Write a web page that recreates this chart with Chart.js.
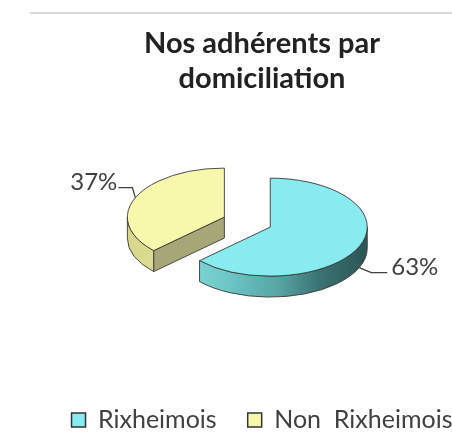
<!DOCTYPE html>
<html><head><meta charset="utf-8">
<script src="https://cdn.jsdelivr.net/npm/chart.js@4.4.1/dist/chart.umd.min.js"></script>
<style>
html,body{margin:0;padding:0;background:#fff;width:452px;height:445px;overflow:hidden;}
#rule{position:absolute;left:30px;top:12px;width:422px;height:0;border-top:2px solid #d9d9d9;}
#wrap{position:absolute;left:30px;top:13px;width:464px;height:432px;}
</style></head><body>
<div id="rule"></div>
<div id="wrap"><canvas id="c" width="464" height="432"></canvas></div>
<script>
const categories = ['Rixheimois', 'Non  Rixheimois'];
const shares = [63, 37];
const titleLines = ['Nos adhérents par', 'domiciliation'];

const topColors = ['#87EBEF', '#F8F8AC'];
const faceColors = ['#4f9a9a', '#a6a676'];
const sideStops = [
  [[0, '#86dede'], [0.3, '#6cc4c4'], [0.55, '#57a3a3'], [0.75, '#3b7373'], [1, '#2c5555']],
  [[0, '#d6d68c'], [0.3, '#e2e29a'], [1, '#ececa6']]
];

const pie3d = {
  id: 'pie3d',
  beforeDatasetsDraw(chart, args, o) {
    const ctx = chart.ctx;
    const meta = chart.getDatasetMeta(0);
    const ds = chart.data.datasets[0];
    const total = ds.data.reduce((a, b) => a + b, 0);
    const s = o.squash, d = o.depth;
    const items = meta.data.map((arc, i) => {
      const p = arc.getProps(['x', 'y', 'startAngle', 'endAngle', 'outerRadius'], true);
      const mid = (p.startAngle + p.endAngle) / 2;
      const ex = o.explode[i] || 0;
      return {arc, i, p, mid, R: p.outerRadius,
        cx: p.x + Math.cos(mid) * ex, cy: p.y + Math.sin(mid) * ex * s};
    });
    items.slice().sort((a, b) => a.cy - b.cy).forEach(it => {
      const {cx, cy, R, p, i} = it;
      const ry = R * s;
      const a0 = p.startAngle, a1 = p.endAngle;
      ctx.save();
      ctx.lineWidth = o.lineWidth;
      ctx.strokeStyle = o.lineColor;
      ctx.lineJoin = 'round';
      [[a0, -1], [a1, 1]].forEach(([a, sg]) => {
        const vis = sg < 0 ? Math.cos(a) < -1e-3 : Math.cos(a) > 1e-3;
        if (!vis) return;
        const ex = cx + R * Math.cos(a), ey = cy + ry * Math.sin(a);
        ctx.beginPath();
        ctx.moveTo(cx, cy); ctx.lineTo(ex, ey); ctx.lineTo(ex, ey + d); ctx.lineTo(cx, cy + d);
        ctx.closePath();
        ctx.fillStyle = faceColors[i];
        ctx.fill(); ctx.stroke();
      });
      [-2 * Math.PI, 0, 2 * Math.PI].forEach(k => {
        const lo = Math.max(a0, k), hi = Math.min(a1, k + Math.PI);
        if (hi - lo <= 1e-4) return;
        const g = ctx.createLinearGradient(cx - R, 0, cx + R, 0);
        sideStops[i].forEach(([t, c]) => g.addColorStop(t, c));
        ctx.beginPath();
        ctx.ellipse(cx, cy, R, ry, 0, lo, hi, false);
        ctx.ellipse(cx, cy + d, R, ry, 0, hi, lo, true);
        ctx.closePath();
        ctx.fillStyle = g;
        ctx.fill(); ctx.stroke();
      });
      ctx.save();
      ctx.translate(cx, cy);
      ctx.scale(1, s);
      ctx.translate(-p.x, -p.y);
      it.arc.draw(ctx);
      ctx.restore();
      ctx.beginPath();
      ctx.moveTo(cx, cy);
      ctx.ellipse(cx, cy, R, ry, 0, a0, a1, false);
      ctx.closePath();
      ctx.stroke();
      ctx.restore();
    });
    items.forEach(it => {
      const L = o.leaders[it.i];
      const ry = it.R * s;
      const ax = it.cx + it.R * Math.cos(it.mid);
      const ay = it.cy + ry * Math.sin(it.mid) + (L.from === 'side' ? d : 0);
      const bx = ax + L.elbow[0], by = ay + L.elbow[1];
      const exx = ax + L.end[0], eyy = ay + L.end[1];
      ctx.save();
      ctx.strokeStyle = o.leaderColor;
      ctx.lineWidth = 1.3;
      ctx.beginPath();
      ctx.moveTo(ax, ay); ctx.lineTo(bx, by); ctx.lineTo(exx, eyy);
      ctx.stroke();
      ctx.fillStyle = o.labelColor;
      ctx.font = o.labelFont;
      ctx.textBaseline = 'middle';
      ctx.textAlign = L.align;
      const txt = Math.round(ds.data[it.i] / total * 100) + '%';
      ctx.fillText(txt, exx + (L.align === 'left' ? L.gap : -L.gap), eyy + L.textDy);
      ctx.restore();
    });
    return false;
  }
};

const chart = new Chart(document.getElementById('c'), {
  type: 'pie',
  data: {
    labels: categories,
    datasets: [{
      data: shares,
      backgroundColor: topColors,
      borderWidth: 0,
      radius: 97
    }]
  },
  options: {
    responsive: false,
    animation: false,
    events: [],
    devicePixelRatio: 1,
    layout: {padding: {top: 0, bottom: 2.5, left: 0, right: 0}},
    plugins: {
      tooltip: {enabled: false},
      title: {
        display: true,
        text: titleLines,
        color: '#222222',
        font: {family: 'Lato', size: 29, weight: 'bold', lineHeight: 1.207},
        padding: {top: 13.3, bottom: -22.2}
      },
      legend: {
        display: true,
        position: 'bottom',
        labels: {
          color: '#404040',
          font: {family: 'Lato', size: 25},
          boxWidth: 14,
          boxHeight: 14,
          padding: 31,
          generateLabels(ch) {
            const base = Chart.overrides.pie.plugins.legend.labels.generateLabels(ch);
            return base.map(l => Object.assign(l, {strokeStyle: '#333333', lineWidth: 1.5}));
          }
        }
      },
      pie3d: {
        squash: 0.505,
        depth: 21,
        explode: [9, 41],
        lineWidth: 0.9,
        lineColor: '#3a3a3a',
        leaderColor: '#404040',
        labelColor: '#404040',
        labelFont: '24px Lato',
        leaders: [
          {from: 'side', elbow: [12, 5], end: [28, 5], align: 'left', gap: 4, textDy: -5.5},
          {from: 'top', elbow: [-3, -10], end: [-17, -10], align: 'right', gap: 1, textDy: -5.5}
        ]
      }
    }
  },
  plugins: [pie3d]
});
</script>
</body></html>
